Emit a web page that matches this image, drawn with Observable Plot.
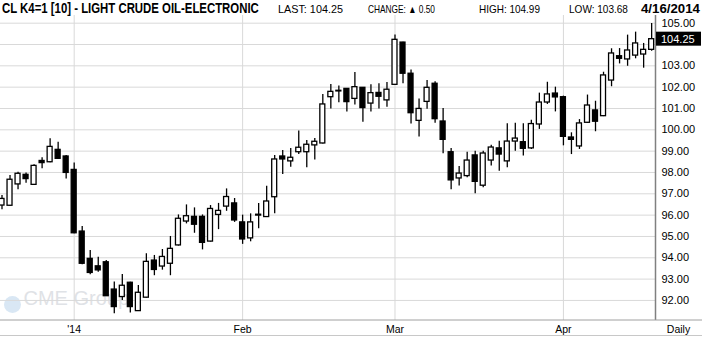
<!DOCTYPE html>
<html>
<head>
<meta charset="utf-8">
<script src="https://cdn.jsdelivr.net/npm/d3@7"></script>
<script src="https://cdn.jsdelivr.net/npm/@observablehq/plot@0.6"></script>
<style>
  html, body { margin: 0; padding: 0; background: #fff; }
  #chart { width: 702px; height: 337px; overflow: hidden; }
</style>
</head>
<body>
<div id="chart"></div>
<script>
// ---- data ----
const dates = [
  "2013-12-18","2013-12-19","2013-12-20","2013-12-23","2013-12-24","2013-12-26","2013-12-27","2013-12-30","2013-12-31",
  "2014-01-02","2014-01-03","2014-01-06","2014-01-07","2014-01-08","2014-01-09","2014-01-10","2014-01-13","2014-01-14",
  "2014-01-15","2014-01-16","2014-01-17","2014-01-21","2014-01-22","2014-01-23","2014-01-24","2014-01-27","2014-01-28",
  "2014-01-29","2014-01-30","2014-01-31",
  "2014-02-03","2014-02-04","2014-02-05","2014-02-06","2014-02-07","2014-02-10","2014-02-11","2014-02-12","2014-02-13",
  "2014-02-14","2014-02-18","2014-02-19","2014-02-20","2014-02-21","2014-02-24","2014-02-25","2014-02-26","2014-02-27",
  "2014-02-28",
  "2014-03-03","2014-03-04","2014-03-05","2014-03-06","2014-03-07","2014-03-10","2014-03-11","2014-03-12","2014-03-13",
  "2014-03-14","2014-03-17","2014-03-18","2014-03-19","2014-03-20","2014-03-21","2014-03-24","2014-03-25","2014-03-26",
  "2014-03-27","2014-03-28","2014-03-31",
  "2014-04-01","2014-04-02","2014-04-03","2014-04-04","2014-04-07","2014-04-08","2014-04-09","2014-04-10","2014-04-11",
  "2014-04-14","2014-04-15","2014-04-16"
];
const open = [
  96.45,96.44,97.44,97.89,97.42,98.54,98.48,99.06,98.75,
  98.12,95.23,93.95,93.60,93.79,92.51,92.16,92.83,91.50,
  92.13,93.87,93.59,93.72,94.58,95.70,95.92,95.92,94.76,
  96.01,96.40,96.55,
  95.66,94.91,96.02,95.91,96.84,98.75,98.52,98.95,98.95,
  99.27,99.36,101.53,101.83,101.92,101.45,101.97,101.23,101.73,
  101.38,
  102.11,104.09,102.63,100.42,101.31,102.16,100.39,98.95,97.72,
  97.83,98.80,97.38,98.56,99.13,98.52,99.45,99.42,99.13,
  100.25,101.28,101.70,
  101.53,99.64,99.22,100.33,100.91,100.64,102.31,103.45,103.30,
  103.48,103.53,103.75
];
const high = [
  96.92,97.86,98.01,97.98,98.36,98.69,99.58,99.42,98.80,
  98.45,95.47,94.34,94.03,93.87,92.86,93.22,92.85,92.70,
  94.19,94.11,94.39,95.00,96.01,96.48,96.34,96.01,96.45,
  96.55,97.23,96.78,
  96.00,96.06,96.55,97.36,98.80,99.03,99.13,99.94,99.50,
  99.59,101.66,102.13,102.05,101.94,102.69,101.99,102.11,102.16,
  102.22,
  104.45,104.11,102.81,101.45,102.31,102.25,101.00,99.13,98.28,
  98.95,99.00,99.00,99.28,99.47,100.28,100.31,100.28,100.45,
  101.72,102.23,102.00,
  101.58,99.86,100.48,101.63,101.34,102.70,103.80,103.81,104.44,
  104.58,104.05,104.99
];
const low = [
  96.25,96.42,97.19,97.50,97.40,98.17,98.46,98.62,97.70,
  95.13,93.67,93.21,93.32,92.18,91.38,92.00,91.41,91.48,
  92.11,93.16,93.42,93.16,94.55,95.59,95.15,94.37,94.74,
  95.32,96.18,95.66,
  94.63,94.75,95.36,95.89,96.06,97.91,98.25,98.84,98.22,
  98.59,99.34,100.98,101.27,100.83,101.16,100.36,100.83,100.98,
  101.06,
  102.09,102.16,100.27,99.66,100.97,100.31,98.88,97.19,97.37,
  97.75,97.00,97.28,98.30,98.06,98.22,99.00,98.77,99.08,
  100.02,101.19,100.84,
  99.25,98.84,99.08,100.31,99.91,100.62,102.02,103.09,102.98,
  103.33,102.89,103.68
];
const close = [
  96.76,97.66,97.94,97.69,98.31,98.44,99.20,98.64,97.98,
  95.15,93.72,93.29,93.41,92.20,91.69,92.69,91.69,92.36,
  93.81,93.43,94.04,94.42,95.83,95.95,95.55,94.70,96.29,
  96.20,96.85,95.75,
  94.86,95.66,95.98,96.64,98.61,98.61,98.69,99.16,99.30,
  99.44,101.19,101.78,101.80,101.30,102.00,101.02,101.72,101.55,
  101.88,
  104.22,102.63,100.78,100.98,101.97,100.50,99.53,97.63,97.95,
  98.56,97.56,98.89,99.17,98.84,99.45,99.59,99.11,100.27,
  101.28,101.66,101.52,
  99.67,99.53,100.30,101.14,100.38,102.55,103.58,103.33,103.72,
  104.05,103.75,104.25
];
const yTicks = [92,93,94,95,96,97,98,99,100,101,102,103,104,105];
const monthNames = ["'14","Feb","Mar","Apr"];
const titleText = "CL K4=1 [10] - LIGHT CRUDE OIL-ELECTRONIC";
const periodText = "Daily";

// ---- derived table ----
const n = close.length;
const candles = dates.map((d, i) => ({
  i, date: d, o: open[i], h: high[i], l: low[i], c: close[i], up: close[i] >= open[i]
}));
const monthStarts = [];
for (let i = 1; i < n; i++) if (dates[i].slice(5, 7) !== dates[i - 1].slice(5, 7)) monthStarts.push(i);
const monthTicks = monthStarts.map((i, k) => ({i, label: monthNames[k]}));
const last = close[n - 1];
// tick labels hidden behind the last-price box are not drawn
const yLabels = yTicks.filter(t => Math.abs(t - last) > 0.4);

const W = 702, H = 337;
const xMin = -0.187, xMax = 81.48;

const chart = Plot.plot({
  width: W, height: H,
  marginTop: 15, marginBottom: 17, marginLeft: 0, marginRight: 47,
  x: {domain: [xMin, xMax], axis: null},
  y: {domain: [91.06, 105.36], axis: null},
  style: {background: "white", fontFamily: "'Liberation Sans', Arial, sans-serif", color: "black"},
  marks: [
    // watermark
    Plot.dot([0], {frameAnchor: "bottom-left", dx: 12, dy: -16, r: 8.5, fill: "#d9e7f4"}),
    Plot.text(["CME Group"], {frameAnchor: "bottom-left", dx: 23, dy: -16, textAnchor: "start", fontSize: 20, fill: "#dfe2e6"}),
    // grid
    Plot.ruleY(yTicks, {stroke: "#d9d9d9", strokeWidth: 1}),
    Plot.ruleX(monthTicks, {x: "i", stroke: "#d9d9d9", strokeWidth: 1}),
    // right axis line
    Plot.ruleX([xMax], {stroke: "#808080", strokeWidth: 1.5}),
    // candles
    Plot.ruleX(candles, {x: "i", y1: "l", y2: "h", stroke: "black", strokeWidth: 1.3}),
    Plot.rect(candles, {
      x1: d => d.i - 0.31, x2: d => d.i + 0.31, y1: "o", y2: "c",
      fill: d => d.up ? "white" : "black", stroke: "black", strokeWidth: 1.3
    }),
    // y labels
    Plot.text(yLabels, {x: xMax, y: d => d, text: d => d.toFixed(2), dx: 6, textAnchor: "start", fontSize: 11, fill: "black"}),
    // x labels
    Plot.text(monthTicks, {x: "i", frameAnchor: "bottom", dy: 9, lineAnchor: "middle", text: "label", fontSize: 10.5, fill: "black"})
  ]
});
document.getElementById("chart").appendChild(chart);

// ---- decorations using the plot's scales ----
const svg = d3.select(chart);
const ys = chart.scale("y"), xs = chart.scale("x");
const yBottom = ys.apply(91.06);
const xRight = xs.apply(xMax);

svg.append("line").attr("x1", 0).attr("x2", W).attr("y1", yBottom).attr("y2", yBottom)
  .attr("stroke", "#a0a0a0").attr("stroke-width", 1);
svg.append("line").attr("x1", 0).attr("x2", W).attr("y1", H - 1.5).attr("y2", H - 1.5)
  .attr("stroke", "#c8c8c8").attr("stroke-width", 1);

// last price box
const yl = ys.apply(last);
svg.append("rect").attr("x", xRight + 1).attr("y", yl - 7).attr("width", W - xRight - 2).attr("height", 14).attr("fill", "black");
svg.append("text").attr("x", xRight + 6).attr("y", yl).attr("dy", "0.35em").attr("text-anchor", "start")
  .attr("fill", "white").attr("font-size", 11).text(last.toFixed(2));

// Daily label
svg.append("text").attr("x", (xRight + W) / 2).attr("y", yBottom + 9).attr("dy", "0.35em")
  .attr("text-anchor", "middle").attr("font-size", 10.5).attr("fill", "black").text(periodText);

// header (condensed by horizontal scaling to the reference widths)
const chg = close[n - 1] - close[n - 2];
const hdr = [
  {t: titleText, x: 2, w: 257, size: 14, weight: "bold"},
  {t: "LAST: " + last.toFixed(2), x: 278, w: 65, size: 10.5, weight: "normal"},
  {t: "CHANGE: " + (chg >= 0 ? "\u25B2 " : "\u25BC ") + Math.abs(chg).toFixed(2), x: 368, w: 67, size: 10.5, weight: "normal"},
  {t: "HIGH: " + high[n - 1].toFixed(2), x: 479, w: 61, size: 10.5, weight: "normal"},
  {t: "LOW: " + low[n - 1].toFixed(2), x: 569, w: 59, size: 10.5, weight: "normal"},
  {t: (() => { const [y, m, d] = dates[n - 1].split("-"); return (+m) + "/" + (+d) + "/" + y; })(), x: 641, w: 59, size: 13.5, weight: "bold"}
];
svg.append("rect").attr("x", 0).attr("y", 0).attr("width", W).attr("height", 14).attr("fill", "white");
hdr.forEach(h => {
  const t = svg.append("text").attr("x", 0).attr("y", 0).attr("text-anchor", "start")
    .attr("font-size", h.size).attr("font-weight", h.weight).attr("fill", "black")
    .text(h.t);
  const natural = t.node().getComputedTextLength() || h.w;
  const sx = h.w / natural;
  t.attr("transform", `translate(${h.x},13) scale(${sx},1)`);
});
</script>
</body>
</html>
